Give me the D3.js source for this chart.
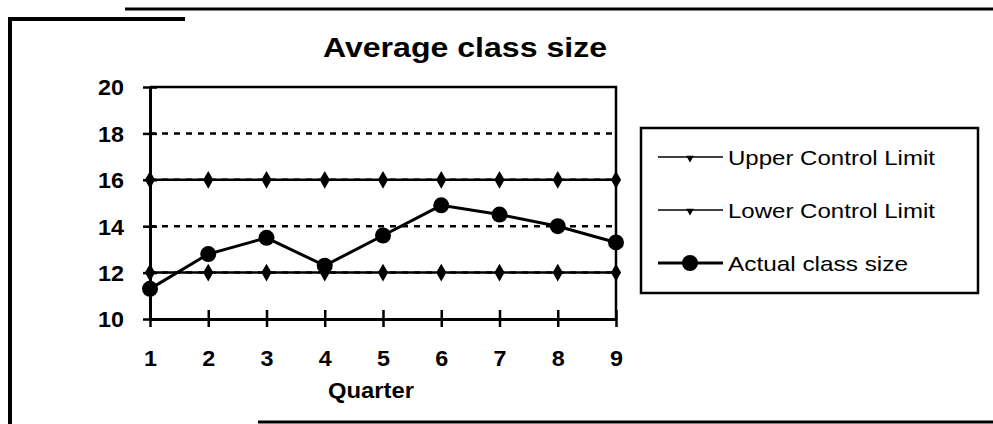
<!DOCTYPE html>
<html>
<head>
<meta charset="utf-8">
<script src="https://cdn.jsdelivr.net/npm/d3@7"></script>
<style>
  html, body { margin: 0; padding: 0; background: #fff; }
  svg { display: block; font-family: "Liberation Sans", Arial, sans-serif; }
</style>
</head>
<body>
<div id="chart"></div>
<script>
// Average class size — control chart

const quarters = [1, 2, 3, 4, 5, 6, 7, 8, 9];
const upperLimit = [16, 16, 16, 16, 16, 16, 16, 16, 16];
const lowerLimit = [12, 12, 12, 12, 12, 12, 12, 12, 12];
const actualSize = [11.3, 12.8, 13.5, 12.3, 13.6, 14.9, 14.5, 14.0, 13.3];
const yTicks = [10, 12, 14, 16, 18, 20];
const gridTicks = [12, 14, 16, 18];
const seriesNames = ["Upper Control Limit", "Lower Control Limit", "Actual class size"];

const W = 993, H = 424;
const svg = d3.select("#chart").append("svg").attr("width", W).attr("height", H);

// Outer chart frame (scan is slightly skewed, top-left corner sits lower)
svg.append("path").attr("d", "M10,424 V19 H185").attr("fill", "none").attr("stroke", "#000").attr("stroke-width", 4);
svg.append("line").attr("x1", 125).attr("x2", 993).attr("y1", 9).attr("y2", 9).attr("stroke", "#000").attr("stroke-width", 3);
svg.append("line").attr("x1", 258).attr("x2", 993).attr("y1", 422).attr("y2", 422).attr("stroke", "#000").attr("stroke-width", 3);

const x = d3.scaleLinear().domain([1, 9]).range([150, 616]);
const y = d3.scaleLinear().domain([10, 20]).range([319, 87]);

// Title
svg.append("text").attr("x", 323).attr("y", 57)
  .attr("font-size", 27).attr("font-weight", "bold")
  .attr("textLength", 284).attr("lengthAdjust", "spacingAndGlyphs")
  .text("Average class size");

// Dashed gridlines
svg.append("g").selectAll("line").data(gridTicks).join("line")
  .attr("x1", x(1)).attr("x2", x(9))
  .attr("y1", d => y(d)).attr("y2", d => y(d))
  .attr("stroke", "#000").attr("stroke-width", 2.5).attr("stroke-dasharray", "6,6");

// Plot border top + right
svg.append("path")
  .attr("d", `M${x(1)},${y(20)} H${x(9)} V${y(10)}`)
  .attr("fill", "none").attr("stroke", "#000").attr("stroke-width", 2.5);

// Axes (cross tick marks); scanned digits are a bit wider than Arial
const digitW = 13;
const yAxis = d3.axisLeft(y).tickValues(yTicks).tickSizeOuter(0).tickFormat(d3.format("d"));
const gy = svg.append("g").attr("transform", `translate(${x(1)},0)`).call(yAxis)
  .attr("font-family", null).attr("font-size", null);
gy.select(".domain").attr("stroke-width", 3);
gy.selectAll(".tick line").attr("x1", -7).attr("x2", 7).attr("stroke-width", 2.5);
gy.selectAll(".tick text").attr("x", -26).attr("dy", "0.36em")
  .attr("font-size", 22).attr("font-weight", "bold").attr("fill", "#000")
  .attr("textLength", d => String(d).length * digitW).attr("lengthAdjust", "spacingAndGlyphs");

const xAxis = d3.axisBottom(x).tickValues(quarters).tickSizeOuter(0).tickFormat(d3.format("d"));
const gx = svg.append("g").attr("transform", `translate(0,${y(10)})`).call(xAxis)
  .attr("font-family", null).attr("font-size", null);
gx.select(".domain").attr("stroke-width", 3);
gx.selectAll(".tick line").attr("y1", -9).attr("y2", 8).attr("stroke-width", 2.5);
gx.selectAll(".tick text").attr("y", 47).attr("dy", 0)
  .attr("font-size", 22).attr("font-weight", "bold").attr("fill", "#000")
  .attr("textLength", d => String(d).length * digitW).attr("lengthAdjust", "spacingAndGlyphs");

svg.append("text").attr("x", 328).attr("y", 398)
  .attr("font-size", 22).attr("font-weight", "bold")
  .attr("textLength", 86).attr("lengthAdjust", "spacingAndGlyphs")
  .text("Quarter");

// Series
const line = d3.line().x((d, i) => x(quarters[i])).y(d => y(d));
const diamond = d3.symbol().type(d3.symbolDiamond).size(90);

[upperLimit, lowerLimit].forEach(vals => {
  svg.append("path").datum(vals).attr("d", line)
    .attr("fill", "none").attr("stroke", "#000").attr("stroke-width", 2.5);
  svg.append("g").selectAll("path").data(vals).join("path")
    .attr("d", diamond)
    .attr("transform", (d, i) => `translate(${x(quarters[i])},${y(d)})`)
    .attr("fill", "#000");
});

svg.append("path").datum(actualSize).attr("d", line)
  .attr("fill", "none").attr("stroke", "#000").attr("stroke-width", 3);
svg.append("g").selectAll("circle").data(actualSize).join("circle")
  .attr("cx", (d, i) => x(quarters[i])).attr("cy", d => y(d))
  .attr("r", 8).attr("fill", "#000");

// Legend
const lg = svg.append("g");
lg.append("rect").attr("x", 641).attr("y", 128).attr("width", 337).attr("height", 165)
  .attr("fill", "#fff").attr("stroke", "#000").attr("stroke-width", 2.5);
const rowY = [157, 210, 263];
const textLen = [207, 207, 180];
seriesNames.forEach((name, i) => {
  const ry = rowY[i];
  lg.append("line").attr("x1", 658).attr("x2", 723).attr("y1", ry).attr("y2", ry)
    .attr("stroke", "#000").attr("stroke-width", i === 2 ? 3 : 1.5);
  if (i === 2) {
    lg.append("circle").attr("cx", 690).attr("cy", ry).attr("r", 8).attr("fill", "#000");
  } else {
    lg.append("path").attr("d", d3.symbol().type(d3.symbolTriangle).size(26))
      .attr("transform", `translate(690,${ry + 1}) rotate(180)`).attr("fill", "#000");
  }
  lg.append("text").attr("x", 728).attr("y", ry + 7.5)
    .attr("font-size", 21)
    .attr("textLength", textLen[i]).attr("lengthAdjust", "spacingAndGlyphs")
    .text(name);
});
</script>
</body>
</html>
